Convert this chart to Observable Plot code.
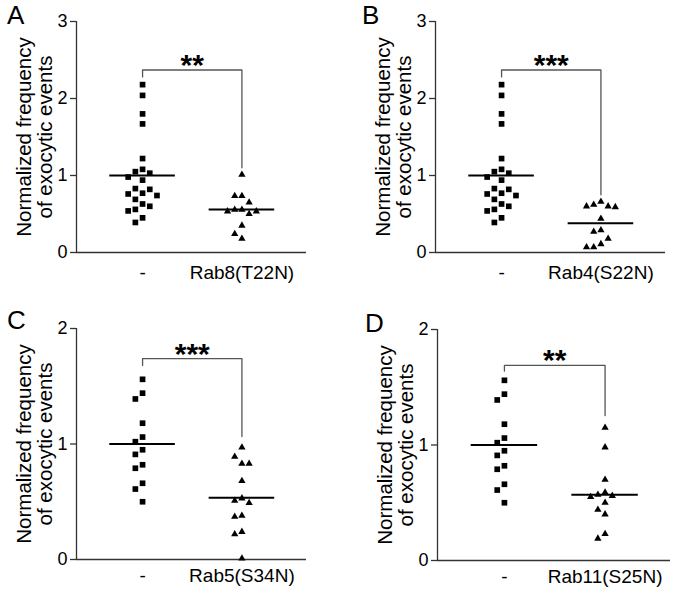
<!DOCTYPE html>
<html>
<head>
<meta charset="utf-8">
<script src="https://cdn.jsdelivr.net/npm/d3@7"></script>
<script src="https://cdn.jsdelivr.net/npm/@observablehq/plot@0.6"></script>
<style>
  html, body { margin: 0; padding: 0; background: #fff; }
  #wrap { position: relative; width: 677px; height: 599px; overflow: hidden; background: #fff;
          font-family: "Liberation Sans", Arial, Helvetica, sans-serif; }
  .panel { position: absolute; }
  .letter { position: absolute; font-size: 26px; line-height: 1; color: #000; }
</style>
</head>
<body>
<div id="wrap"></div>
<script>
// ---------------- data ----------------
const panelLetters = ["A", "B", "C", "D"];
const categoriesA = ["-", "Rab8(T22N)"];
const categoriesB = ["-", "Rab4(S22N)"];
const categoriesC = ["-", "Rab5(S34N)"];
const categoriesD = ["-", "Rab11(S25N)"];

const controlAB = [2.18, 2.04, 1.80, 1.67, 1.22, 1.08, 1.05, 1.03, 0.98, 0.94, 0.83, 0.82,
                   0.77, 0.76, 0.74, 0.69, 0.63, 0.60, 0.56, 0.54, 0.45, 0.39];
const rab8T22N  = [1.01, 0.735, 0.735, 0.65, 0.555, 0.555, 0.535, 0.535, 0.50, 0.35, 0.24, 0.18];
const rab4S22N  = [0.66, 0.62, 0.60, 0.60, 0.59, 0.44, 0.29, 0.27, 0.18, 0.11, 0.07, 0.07];
const controlCD = [1.56, 1.44, 1.39, 1.18, 1.06, 1.02, 0.95, 0.91, 0.82, 0.79, 0.66, 0.61, 0.50];
const rab5S34N  = [0.97, 0.89, 0.83, 0.83, 0.68, 0.53, 0.51, 0.49, 0.38, 0.37, 0.24, 0.22, 0.01];
const rab11S25N = [1.15, 0.98, 0.70, 0.59, 0.57, 0.56, 0.55, 0.50, 0.44, 0.40, 0.23, 0.19];

const meansA = [1.0, 0.56];
const meansB = [1.0, 0.38];
const meansC = [1.0, 0.535];
const meansD = [1.0, 0.57];

const yTicksAB = [0, 1, 2, 3];
const yTicksCD = [0, 1, 2];

const starsLabels = ["**", "***", "***", "**"];
const bracketTop      = [2.37, 2.37, 1.74, 1.69];
const bracketLeftEnd  = [2.28, 2.28, 1.68, 1.64];
const bracketRightEnd = [1.10, 0.75, 1.065, 1.255];

const yLabel = "Normalized frequency\nof exocytic events";

// ---------------- layout ----------------
const FONT = "'Liberation Sans', Arial, Helvetica, sans-serif";
const layouts = [
  {left: 0,   top: 0,   width: 338, height: 300, mL: 76, mR: 32, mT: 21, mB: 48, xPad: 13, letterX: 7,   letterY: 1.6},
  {left: 339, top: 0,   width: 338, height: 300, mL: 96, mR: 12, mT: 21, mB: 48, xPad: 13, letterX: 362, letterY: 1.6},
  {left: 0,   top: 300, width: 338, height: 299, mL: 76, mR: 32, mT: 28, mB: 40, xPad: 9,  letterX: 7,   letterY: 306.6},
  {left: 339, top: 300, width: 338, height: 299, mL: 98, mR: 7,  mT: 29, mB: 39, xPad: 9,  letterX: 365, letterY: 309.6}
];
const xDomain = [-0.665, 1.65];

// simple Prism-like column scatter: spread points with close values sideways
function swarmSlots(vals, pxPerUnit, thresholdPx) {
  const order = d3.range(vals.length).sort((a, b) => vals[b] - vals[a]);
  const slot = new Array(vals.length);
  const placed = [];
  const prefs = [0, -1, 1, -2, 2, -3, 3, -4, 4];
  for (const i of order) {
    for (const s of prefs) {
      const clash = placed.some(j => slot[j] === s && Math.abs(vals[j] - vals[i]) * pxPerUnit < thresholdPx);
      if (!clash) { slot[i] = s; break; }
    }
    placed.push(i);
  }
  return slot;
}

function makePanel(k, cats, ctrl, treat, means, yMax, yTicks) {
  const L = layouts[k];
  const frameW = L.width - L.mL - L.mR;
  const frameH = L.height - L.mT - L.mB;
  const pxPerX = frameW / (xDomain[1] - xDomain[0]);
  const pxPerY = frameH / yMax;
  const stepX = 7.2 / pxPerX;

  const rows = [];
  [ctrl, treat].forEach((vals, g) => {
    const slots = swarmSlots(vals, pxPerY, 9.5);
    vals.forEach((v, i) => rows.push({g, v, x: g + slots[i] * stepX}));
  });
  const meanRows = means.map((m, g) => ({g, v: m}));
  const bracket = [
    {x: 0, y: bracketLeftEnd[k]}, {x: 0, y: bracketTop[k]},
    {x: 1, y: bracketTop[k]}, {x: 1, y: bracketRightEnd[k]}
  ];

  const svg = Plot.plot({
    width: L.width, height: L.height,
    marginLeft: L.mL, marginRight: L.mR, marginTop: L.mT, marginBottom: L.mB,
    x: {domain: xDomain, axis: null, label: null},
    y: {domain: [0, yMax], axis: null, label: null},
    style: {fontFamily: FONT, color: "#000", background: "transparent", overflow: "visible"},
    marks: [
      Plot.ruleX([xDomain[0]], {y1: 0, y2: yMax, stroke: "#333", strokeWidth: 1.3}),
      Plot.ruleY([0], {stroke: "#333", strokeWidth: 1.3}),
      Plot.axisY({ticks: yTicks, tickSize: 6, tickPadding: 3, fontSize: 18, label: null,
                  tickFormat: d => String(d), stroke: "#333", strokeWidth: 1.3}),
      Plot.axisX({ticks: [0, 1], tickSize: 0, tickPadding: L.xPad, fontSize: 19, label: null,
                  tickFormat: i => cats[i]}),
      Plot.line(bracket, {x: "x", y: "y", stroke: "#555", strokeWidth: 1.3}),
      Plot.text([starsLabels[k]], {x: 0.5, y: bracketTop[k], text: d => d, lineAnchor: "bottom",
                  dy: 5, fontSize: 30, fontWeight: "bold"}),
      Plot.ruleY(meanRows, {y: "v", x1: d => d.g - 0.33, x2: d => d.g + 0.33, stroke: "#000", strokeWidth: 2}),
      Plot.dot(rows.filter(d => d.g === 0), {x: "x", y: "v", symbol: "square", r: 3.2, fill: "#000", stroke: null}),
      Plot.dot(rows.filter(d => d.g === 1), {x: "x", y: "v", symbol: "triangle", r: 2.7, fill: "#000", stroke: null}),
      Plot.text([yLabel], {text: d => d, frameAnchor: "left", textAnchor: "middle", lineAnchor: "middle",
                  rotate: -90, dx: -42, fontSize: 20.5, lineHeight: 1.03})
    ]
  });

  const div = document.createElement("div");
  div.className = "panel";
  div.style.left = L.left + "px";
  div.style.top = L.top + "px";
  div.appendChild(svg);
  document.getElementById("wrap").appendChild(div);

  const letter = document.createElement("div");
  letter.className = "letter";
  letter.textContent = panelLetters[k];
  letter.style.left = L.letterX + "px";
  letter.style.top = L.letterY + "px";
  document.getElementById("wrap").appendChild(letter);
}

makePanel(0, categoriesA, controlAB, rab8T22N, meansA, 3, yTicksAB);
makePanel(1, categoriesB, controlAB, rab4S22N, meansB, 3, yTicksAB);
makePanel(2, categoriesC, controlCD, rab5S34N, meansC, 2, yTicksCD);
makePanel(3, categoriesD, controlCD, rab11S25N, meansD, 2, yTicksCD);
</script>
</body>
</html>
